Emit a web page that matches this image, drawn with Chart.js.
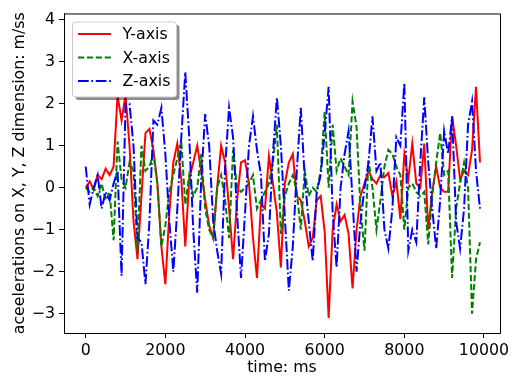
<!DOCTYPE html>
<html>
<head>
<meta charset="utf-8">
<script src="https://cdn.jsdelivr.net/npm/chart.js@4"></script>
<style>
  html, body { margin: 0; padding: 0; background: #fff; }
  #chartCanvas { display: block; }
</style>
</head>
<body>
<canvas id="chartCanvas" width="514" height="383"></canvas>
<script>
// time stamps (ms) and the three acceleration traces
const timeMs = [
  0, 100, 200, 300, 400, 500, 600, 700, 800, 900,
  1000, 1100, 1200, 1300, 1400, 1500, 1600, 1700, 1800, 1900,
  2000, 2100, 2200, 2300, 2400, 2500, 2600, 2700, 2800, 2900,
  3000, 3100, 3200, 3300, 3400, 3500, 3600, 3700, 3800, 3900,
  4000, 4100, 4200, 4300, 4400, 4500, 4600, 4700, 4800, 4900,
  5000, 5100, 5200, 5300, 5400, 5500, 5600, 5700, 5800, 5900,
  6000, 6100, 6200, 6300, 6400, 6500, 6600, 6700, 6800, 6900,
  7000, 7100, 7200, 7300, 7400, 7500, 7600, 7700, 7800, 7900,
  8000, 8100, 8200, 8300, 8400, 8500, 8600, 8700, 8800, 8900,
  9000, 9100, 9200, 9300, 9400, 9500, 9600, 9700, 9800, 9900
];

const yAxisAccel = [
  0.0, 0.15, -0.05, 0.3, 0.2, 0.45, 0.3, 0.5, 2.2, 1.6,
  2.2, 1.0, -0.8, -1.7, -0.2, 1.3, 1.4, 0.9, 0.1, -1.4,
  -2.3, -0.6, 0.6, 1.05, 0.2, -1.4, 0.2, 0.6, 1.0, 0.4,
  -0.3, -0.9, -1.2, 0.0, 1.0, 0.6, -0.5, -1.7, -0.3, 0.6,
  0.65, 0.1, -1.2, -2.15, -0.4, -0.5, 0.75, 0.1, -0.6, -1.9,
  0.1, 0.6, 0.8, -0.2, -0.3, -0.8, -1.4, -1.2, -0.3, -0.2,
  -1.05, -3.1, -1.0, -0.4, -0.8, -0.65, -1.1, -2.4, -1.0, -0.2,
  0.1, 0.4, 0.2, 0.1, 0.3, 0.25, 0.35, -0.2, 0.15, -0.75,
  0.8, 0.2, 1.05, 0.1, 0.0, 1.05, -1.0, -0.1, 0.5, 0.0,
  -0.1, -0.1, 1.7, 1.0, 0.2, 0.4, 0.3, 0.9, 2.4, 0.6
];

const xAxisAccel = [
  0.0, -0.1, 0.0, -0.2, 0.1, -0.3, -0.1, -1.25, 1.1, 0.2,
  0.0, 0.6, 0.4, -1.5, 1.0, 0.4, 0.5, 0.8, 0.1, -1.4,
  -0.9, -0.1, 0.3, 0.7, 1.1, -0.4, 0.3, -0.2, 0.0, 0.8,
  -0.5, -1.0, -1.2, 0.0, 0.3, -0.3, -1.2, 0.9, 0.0, -0.1,
  0.0, 0.1, 0.3, -0.5, -0.3, -0.1, 0.1, 0.6, 1.5, -1.1,
  -0.2, 0.1, 0.3, -0.1, -1.0, 0.4, -0.2, 0.0, -0.1, 0.4,
  1.8, 0.0, 1.5, 0.4, 0.7, 0.5, 0.3, 2.05, 1.45, -0.5,
  -1.5, 0.65, 0.0, -1.0, -0.3, 0.5, 0.9, 0.8, 0.5, 0.3,
  -1.0, 0.0, 0.1, -0.1, -0.2, -0.1, -1.35, -0.2, 0.6, 1.3,
  0.3, 0.4, -2.15, -0.5, 0.1, 0.6, 0.0, -3.0, -1.7, -1.3
];

const zAxisAccel = [
  0.5, -0.4, 0.0, 0.3, -0.5, -0.1, -0.3, 0.1, 0.4, -2.1,
  2.0, 2.0, 1.0, -1.2, -1.3, -2.3, -0.8, 1.6, 1.5, 1.9,
  0.8, -0.8, -2.0, -0.5, 1.2, 2.75, 1.2, -1.0, -2.5, 0.2,
  1.75, 1.0, -0.8, -1.5, -2.05, 0.5, 1.9, 1.2, -0.6, -2.15,
  -0.6, 1.0, 1.7, 0.9, 0.3, -1.75, -1.1, 0.8, 2.15, 1.0,
  -0.7, -2.45, -1.4, 0.4, 1.9, 0.2, -0.8, -1.75, -0.1, 0.3,
  1.3, 2.4, -0.6, -1.9, 0.0, 0.8, 1.35, -0.3, -2.0, -0.8,
  0.0, 0.6, 1.7, 0.4, 0.6, -1.0, -1.45, -0.5, 1.2, 1.0,
  2.5, -1.5, -1.0, -1.3, 0.6, 2.15, 0.6, -0.5, -1.45, -0.3,
  1.35, 0.8, 1.7, -0.8, -1.45, -0.5, 1.5, 2.05, 0.4, -0.5
];

const seriesLabels = ["Y-axis", "X-axis", "Z-axis"];
const xTickValues = [0, 2000, 4000, 6000, 8000, 10000];
const yTickValues = [-3, -2, -1, 0, 1, 2, 3, 4];

const FONT = "'DejaVu Sans', sans-serif";
const FONT_SIZE = 15.8;
const toPoints = (vals) => vals.map((v, i) => ({ x: timeMs[i], y: v }));

// top/right spines plus a matplotlib-like legend box in the upper left
const frameAndLegend = {
  id: "frameAndLegend",
  afterDatasetsDraw(chart) {
    const { ctx, chartArea: a } = chart;
    ctx.save();
    ctx.strokeStyle = "#000";
    ctx.lineWidth = 1;
    ctx.beginPath();
    ctx.moveTo(a.left, a.top + 0.5);
    ctx.lineTo(a.right + 0.5, a.top + 0.5);
    ctx.lineTo(a.right + 0.5, a.bottom);
    ctx.stroke();

    const bx = a.left + 8.5, by = a.top + 8.5, bw = 104, bh = 75;
    const roundBox = (x, y) => {
      ctx.beginPath();
      ctx.roundRect(x, y, bw, bh, 3);
    };
    roundBox(bx + 3, by + 3);
    ctx.fillStyle = "rgba(0,0,0,0.45)";
    ctx.fill();
    roundBox(bx, by);
    ctx.fillStyle = "#fff";
    ctx.fill();
    ctx.strokeStyle = "#cccccc";
    ctx.stroke();

    ctx.font = FONT_SIZE + "px " + FONT;
    ctx.textBaseline = "middle";
    chart.data.datasets.forEach((ds, i) => {
      const yy = by + 12 + i * 23.5;
      ctx.strokeStyle = ds.borderColor;
      ctx.lineWidth = ds.borderWidth;
      ctx.setLineDash(ds.borderDash || []);
      ctx.beginPath();
      ctx.moveTo(bx + 5.5, yy);
      ctx.lineTo(bx + 38.5, yy);
      ctx.stroke();
      ctx.setLineDash([]);
      ctx.fillStyle = "#000";
      ctx.fillText(ds.label, bx + 50, yy + 1);
    });
    ctx.restore();
  }
};

const ctx = document.getElementById("chartCanvas").getContext("2d");
new Chart(ctx, {
  type: "line",
  data: {
    datasets: [
      { label: seriesLabels[0], data: toPoints(yAxisAccel), borderColor: "#ff0000", borderWidth: 2, order: 3 },
      { label: seriesLabels[1], data: toPoints(xAxisAccel), borderColor: "#008000", borderWidth: 2, borderDash: [6.2, 2.7], order: 2 },
      { label: seriesLabels[2], data: toPoints(zAxisAccel), borderColor: "#0000ff", borderWidth: 2, borderDash: [10.7, 2.7, 1.7, 2.7], order: 1 }
    ]
  },
  options: {
    responsive: false,
    animation: false,
    devicePixelRatio: 1,
    layout: { padding: { left: 0, right: 14, top: 8, bottom: 0 } },
    elements: { point: { radius: 0 }, line: { tension: 0, fill: false } },
    plugins: { legend: { display: false }, tooltip: { enabled: false } },
    scales: {
      x: {
        type: "linear",
        min: -545,
        max: 10402,
        afterBuildTicks: (s) => { s.ticks = xTickValues.map((v) => ({ value: v })); },
        afterFit: (s) => { s.height = 50; },
        grid: { drawOnChartArea: false, drawTicks: true, tickLength: 5, color: "#000" },
        border: { display: true, color: "#000", width: 1 },
        ticks: {
          color: "#000", padding: 3, maxRotation: 0, font: { family: FONT, size: FONT_SIZE },
          callback: (v) => String(v)
        },
        title: {
          display: true, text: "time: ms", color: "#000",
          font: { family: FONT, size: FONT_SIZE, lineHeight: 1.2 },
          padding: { top: 0, bottom: 5.5 }
        }
      },
      y: {
        min: -3.46,
        max: 4.147,
        afterBuildTicks: (s) => { s.ticks = yTickValues.map((v) => ({ value: v })); },
        afterFit: (s) => { s.width = 64; },
        grid: { drawOnChartArea: false, drawTicks: true, tickLength: 5, color: "#000" },
        border: { display: true, color: "#000", width: 1 },
        ticks: {
          color: "#000", padding: 4, font: { family: FONT, size: FONT_SIZE },
          callback: (v) => String(v).replace("-", "\u2212")
        },
        title: {
          display: true, text: "aceelerations on X, Y, Z dimension: m/ss", color: "#000",
          font: { family: FONT, size: FONT_SIZE, lineHeight: 1.2 },
          padding: { top: 10.5, bottom: 0 }
        }
      }
    }
  },
  plugins: [frameAndLegend]
});
</script>
</body>
</html>
